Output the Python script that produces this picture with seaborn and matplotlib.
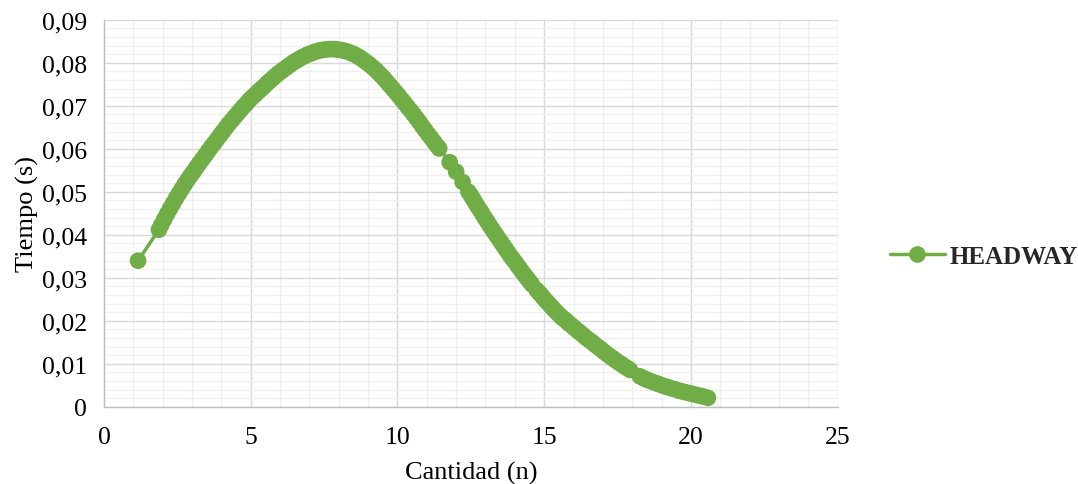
import matplotlib
matplotlib.use("Agg")
import matplotlib.pyplot as plt
from matplotlib.lines import Line2D
from matplotlib.ticker import MultipleLocator, FuncFormatter
import seaborn as sns
import pandas as pd

# Headway curve: vehicle count (n) vs time (s)
cantidad = [
    1.16,
    1.87, 1.95, 2.05, 2.15, 2.25, 2.35, 2.45, 2.55, 2.65, 2.75, 2.85, 2.95,
    3.05, 3.15, 3.25, 3.35, 3.45, 3.55, 3.65, 3.75, 3.85, 3.95, 4.05, 4.15,
    4.25, 4.35, 4.45, 4.55, 4.65, 4.75, 4.85, 4.95, 5.05, 5.15, 5.25, 5.35,
    5.45, 5.55, 5.65, 5.75, 5.85, 5.95, 6.05, 6.15, 6.25, 6.35, 6.45, 6.55,
    6.65, 6.75, 6.85, 6.95, 7.05, 7.15, 7.25, 7.35, 7.45, 7.55, 7.65, 7.75,
    7.85, 7.95, 8.05, 8.15, 8.25, 8.35, 8.45, 8.55, 8.65, 8.75, 8.85, 8.95,
    9.05, 9.15, 9.25, 9.35, 9.45, 9.55, 9.65, 9.75, 9.85, 9.95, 10.05, 10.15,
    10.25, 10.35, 10.45, 10.55, 10.65, 10.75, 10.85, 10.95, 11.05, 11.15,
    11.25, 11.35, 11.42,
    11.78, 12.00, 12.22,
    12.42, 12.50, 12.58, 12.66, 12.74, 12.82, 12.90, 12.98, 13.06, 13.14,
    13.22, 13.30, 13.38, 13.46, 13.54, 13.62, 13.70, 13.78, 13.86, 13.94,
    14.02, 14.10, 14.18, 14.26, 14.34, 14.42, 14.50, 14.58,
    14.74, 14.82, 14.90, 14.98, 15.06, 15.14, 15.22, 15.30, 15.38, 15.46,
    15.54, 15.62, 15.70, 15.78, 15.86, 15.94, 16.04, 16.14, 16.24, 16.34,
    16.44, 16.54, 16.64, 16.74, 16.84, 16.94, 17.04, 17.14, 17.24, 17.34,
    17.44, 17.54, 17.64, 17.74, 17.84, 17.92,
    18.26, 18.38, 18.50, 18.62, 18.74, 18.86, 18.98, 19.10, 19.22, 19.34,
    19.46, 19.58, 19.70, 19.82, 19.94, 20.06, 20.18, 20.30, 20.42, 20.58,
]
tiempo = [
    0.0340,
    0.0412, 0.0423, 0.0436, 0.0449, 0.0461, 0.0473, 0.0485, 0.0496, 0.0507,
    0.0518, 0.0528, 0.0538, 0.0547, 0.0557, 0.0567, 0.0576, 0.0585, 0.0595,
    0.0604, 0.0613, 0.0622, 0.0631, 0.0640, 0.0649, 0.0658, 0.0666, 0.0674,
    0.0682, 0.0690, 0.0698, 0.0705, 0.0713, 0.0720, 0.0726, 0.0733, 0.0739,
    0.0745, 0.0752, 0.0758, 0.0764, 0.0770, 0.0776, 0.0781, 0.0786, 0.0791,
    0.0796, 0.0801, 0.0805, 0.0809, 0.0813, 0.0816, 0.0820, 0.0822, 0.0825,
    0.0827, 0.0829, 0.0830, 0.0831, 0.0832, 0.0832, 0.0832, 0.0831, 0.0830,
    0.0829, 0.0827, 0.0825, 0.0822, 0.0819, 0.0815, 0.0811, 0.0806, 0.0801,
    0.0796, 0.0790, 0.0784, 0.0777, 0.0770, 0.0763, 0.0755, 0.0747, 0.0739,
    0.0731, 0.0723, 0.0714, 0.0706, 0.0697, 0.0689, 0.0680, 0.0671, 0.0662,
    0.0652, 0.0643, 0.0634, 0.0625, 0.0616, 0.0607, 0.0601,
    0.0569, 0.0547, 0.0523,
    0.0500, 0.0492, 0.0483, 0.0474, 0.0465, 0.0457, 0.0448, 0.0439, 0.0431,
    0.0422, 0.0414, 0.0406, 0.0398, 0.0390, 0.0382, 0.0374, 0.0366, 0.0358,
    0.0350, 0.0343, 0.0336, 0.0328, 0.0321, 0.0313, 0.0306, 0.0299, 0.0292,
    0.0285,
    0.0272, 0.0266, 0.0260, 0.0253, 0.0247, 0.0241, 0.0235, 0.0229, 0.0223,
    0.0218, 0.0212, 0.0207, 0.0203, 0.0198, 0.0193, 0.0189, 0.0183, 0.0177,
    0.0172, 0.0166, 0.0160, 0.0155, 0.0150, 0.0144, 0.0139, 0.0134, 0.0128,
    0.0123, 0.0118, 0.0113, 0.0108, 0.0103, 0.0099, 0.0094, 0.0090, 0.0086,
    0.0071, 0.0067, 0.0063, 0.0060, 0.0057, 0.0054, 0.0051, 0.0048, 0.0046,
    0.0043, 0.0041, 0.0038, 0.0036, 0.0034, 0.0032, 0.0030, 0.0028, 0.0026,
    0.0024, 0.0021,
]
serie = "HEADWAY"
x_ticks = [0, 5, 10, 15, 20, 25]
y_ticks = [0, 0.01, 0.02, 0.03, 0.04, 0.05, 0.06, 0.07, 0.08, 0.09]

df = pd.DataFrame({"Cantidad (n)": cantidad, "Tiempo (s)": tiempo})

sns.set_theme(style="white")
plt.rcParams["font.family"] = ["Liberation Serif", "DejaVu Serif"]

GREEN = "#70AD47"
MARKER_PT = 12
fig = plt.figure(figsize=(10.78, 4.85), dpi=100)
ax = fig.add_axes([0.0965, 0.159, 0.6805, 0.798])

# connecting line, then the round markers (as a collection, so the
# marker centres are not snapped to whole pixels)
sns.lineplot(data=df, x="Cantidad (n)", y="Tiempo (s)", sort=False,
             estimator=None, color=GREEN, linewidth=2.5, ax=ax,
             legend=False, zorder=3)
sns.scatterplot(data=df, x="Cantidad (n)", y="Tiempo (s)", color=GREEN,
                s=MARKER_PT ** 2, linewidth=0, edgecolor="none", ax=ax,
                legend=False, zorder=4)

ax.set_xlim(0, 25)
ax.set_ylim(0, 0.09)
ax.set_xticks(x_ticks)
ax.set_yticks(y_ticks)
ax.xaxis.set_minor_locator(MultipleLocator(1))
ax.yaxis.set_minor_locator(MultipleLocator(0.002))


def coma(v, pos):
    if abs(v) < 1e-12:
        return "0"
    return f"{v:.2f}".replace(".", ",")


ax.yaxis.set_major_formatter(FuncFormatter(coma))
ax.xaxis.set_major_formatter(FuncFormatter(lambda v, p: f"{int(round(v))}"))

ax.grid(which="major", color="#d9d9d9", linewidth=1.0, zorder=0)
ax.grid(which="minor", color="#f0f0f0", linewidth=1.0, zorder=0)
ax.set_axisbelow(True)
for side in ["top", "right"]:
    ax.spines[side].set_visible(False)
for side in ["left", "bottom"]:
    ax.spines[side].set_color("#bfbfbf")
    ax.spines[side].set_linewidth(1.0)

ax.tick_params(axis="both", which="major", direction="out", length=5,
               width=1.0, color="#bfbfbf", labelsize=18.5, labelcolor="#000000")
ax.tick_params(axis="both", which="minor", length=0)
ax.tick_params(axis="x", pad=9)
ax.tick_params(axis="y", pad=7)

ax.set_xlabel("Cantidad (n)", fontsize=19, color="#000000", labelpad=9)
ax.set_ylabel("Tiempo (s)", fontsize=19, color="#000000", labelpad=2)

handle = Line2D([], [], color=GREEN, linewidth=2.5, marker="o",
                markersize=MARKER_PT, markeredgewidth=0)
fig.legend([handle], [serie], loc="center left",
           bbox_to_anchor=(0.8256, 0.47), frameon=False, handlelength=2.2,
           handletextpad=0.2, borderaxespad=0, borderpad=0,
           prop={"family": "Liberation Serif", "weight": "bold", "size": 18})

fig.savefig("out.png", dpi=100, facecolor="white")
